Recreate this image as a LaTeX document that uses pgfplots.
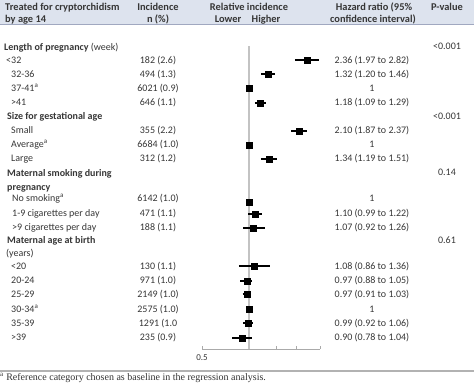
\documentclass[border=0pt]{standalone}
\usepackage{pgfplots}
\pgfplotsset{compat=1.18}
\usepackage{fontspec}
\setmainfont{Carlito}
\newfontfamily\serif{Liberation Serif}
\definecolor{txt}{HTML}{363636}
\definecolor{hdr}{RGB}{221,227,238}
\definecolor{hdrline}{RGB}{160,168,192}
\definecolor{refline}{RGB}{195,195,195}
\definecolor{axl}{RGB}{170,170,170}
\newcommand{\fs}{\fontsize{10}{12}\selectfont}
\newcommand{\hs}{\fontsize{10.4}{12}\selectfont\bfseries}
\newcommand{\tl}[3]{\node[anchor=base west] at (#1,#2+3.5) {#3};}
\newcommand{\tc}[3]{\node[anchor=base] at (#1,#2+3.5) {#3};}
\newcommand{\row}[5]{\tl{#1}{#2}{#3}\tc{158}{#2}{#4}\tc{372}{#2}{#5}}
\begin{document}
\begin{tikzpicture}
\useasboundingbox (0,0) rectangle (474pt,-384pt);
\fill[hdr] (0,0) rectangle (474pt,-24pt);
\draw[hdrline, line width=1.6pt] (0,-24.6pt) -- (474pt,-24.6pt);
\draw[black!30, line width=2.4pt] (0,-371pt) -- (474pt,-371pt);
\begin{scope}[x=1pt,y=-1pt, every node/.style={font=\fs, text=txt, inner sep=0pt}]
% header
\tl{5}{7}{\hs Treated for cryptorchidism}
\tl{5}{19}{\hs by age 14}
\tc{158}{7}{\hs Incidence}
\tc{158}{19}{\hs n (\%)}
\tc{249}{7}{\hs Relative incidence}
\tc{228}{19}{\hs Lower}
\tc{266}{19}{\hs Higher}
\tc{374}{7}{\hs Hazard ratio (95\%}
\tc{373}{19}{\hs confidence interval)}
\tc{447}{7}{\hs P-value}
% groups
\tl{4}{47}{\textbf{Length of pregnancy} (week)}
\tc{447}{46}{<0.001}
\row{6}{60}{<32}{182 (2.6)}{2.36 (1.97 to 2.82)}
\row{11}{74}{32-36}{494 (1.3)}{1.32 (1.20 to 1.46)}
\row{11}{88}{37-41\textsuperscript{a}}{6021 (0.9)}{1}
\row{11}{102}{>41}{646 (1.1)}{1.18 (1.09 to 1.29)}
\tl{7}{116}{\bfseries Size for gestational age}
\tc{447}{116}{<0.001}
\row{11}{130}{Small}{355 (2.2)}{2.10 (1.87 to 2.37)}
\row{11}{144}{Average\textsuperscript{a}}{6684 (1.0)}{1}
\row{11}{158}{Large}{312 (1.2)}{1.34 (1.19 to 1.51)}
\tl{7}{173}{\bfseries Maternal smoking during}
\tl{7}{187}{\bfseries pregnancy}
\tc{447}{172}{0.14}
\row{12}{198}{No smoking\textsuperscript{a}}{6142 (1.0)}{1}
\row{12}{213}{1-9 cigarettes per day}{471 (1.1)}{1.10 (0.99 to 1.22)}
\row{12}{227}{>9 cigarettes per day}{188 (1.1)}{1.07 (0.92 to 1.26)}
\tl{7}{240}{\bfseries Maternal age at birth}
\tc{447}{240}{0.61}
\tl{6}{253}{(years)}
\row{11}{266}{<20}{130 (1.1)}{1.08 (0.86 to 1.36)}
\row{11}{280}{20-24}{971 (1.0)}{0.97 (0.88 to 1.05)}
\row{11}{294}{25-29}{2149 (1.0)}{0.97 (0.91 to 1.03)}
\row{11}{309}{30-34\textsuperscript{a}}{2575 (1.0)}{1}
\row{11}{323}{35-39}{1291 (1.0}{0.99 (0.92 to 1.06)}
\row{11}{337}{>39}{235 (0.9)}{0.90 (0.78 to 1.04)}
\node[anchor=base west, font={\serif\fontsize{10}{11}\selectfont}, text=black!80] at (0,380.5) {\textsuperscript{a} Reference category chosen as baseline in the regression analysis.};
\end{scope}
\begin{axis}[at={(202pt,-349pt)}, anchor=south west, scale only axis,
  width=118pt, height=309pt, xmode=log, xmin=0.5, xmax=2.85,
  ymin=-349, ymax=-40, axis x line=bottom, axis y line=none,
  xtick={0.5,1,1.5,2,2.85}, xticklabels={0.5,,,,}, minor xtick={},
  tick align=inside, major tick length=3pt,
  x axis line style={axl, line width=0.8pt, -},
  every tick/.style={axl, line width=0.8pt},
  xticklabel style={font=\fontsize{9}{10}\selectfont, text=txt, yshift=-2pt},
  /pgf/number format/assume math mode=true,
  clip=false, unbounded coords=jump]
\addplot[refline, line width=1.3pt] coordinates {(1,-46) (1,-349)};
\addplot[black, line width=1.1pt] coordinates {
 (1.97,-60) (2.82,-60) (nan,nan)
 (1.20,-74) (1.46,-74) (nan,nan)
 (1.09,-103) (1.29,-103) (nan,nan)
 (1.87,-131) (2.37,-131) (nan,nan)
 (1.19,-159) (1.51,-159) (nan,nan)
 (0.99,-214) (1.22,-214) (nan,nan)
 (0.92,-228) (1.26,-228) (nan,nan)
 (0.86,-266) (1.36,-266) (nan,nan)
 (0.88,-281) (1.05,-281) (nan,nan)
 (0.91,-294) (1.03,-294) (nan,nan)
 (0.92,-323) (1.06,-323) (nan,nan)
 (0.78,-338) (1.04,-338)
};
\addplot[only marks, mark=square*, mark size=3pt, black] coordinates {
 (2.36,-60) (1.32,-74) (1,-88) (1.18,-103)
 (2.10,-131) (1,-145) (1.34,-159)
 (1,-202) (1.10,-214) (1.07,-228)
 (1.08,-266) (0.97,-281) (0.97,-294) (1,-309) (0.99,-323) (0.90,-338)
};
\end{axis}
\end{tikzpicture}
\end{document}
